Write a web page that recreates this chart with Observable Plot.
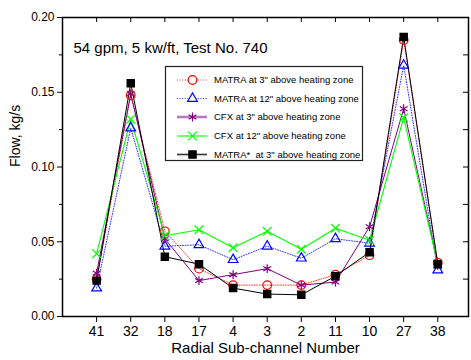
<!DOCTYPE html>
<html>
<head>
<meta charset="utf-8">
<script src="https://cdn.jsdelivr.net/npm/d3@7"></script>
<script src="https://cdn.jsdelivr.net/npm/@observablehq/plot@0.6"></script>
<style>
  html, body { margin: 0; padding: 0; background: #fff; }
  #chart { width: 471px; height: 360px; }
</style>
</head>
<body>
<div id="chart"></div>
<script>
// Radial sub-channels, in the order they are plotted along the x axis
const categories = ["41", "32", "18", "17", "4", "3", "2", "11", "10", "27", "38"];

// Flow (kg/s) per sub-channel for each prediction
const matra3 = [0.025, 0.148, 0.057, 0.032, 0.021, 0.021, 0.021, 0.028, 0.041, 0.185, 0.036];
const matra12 = [0.019, 0.126, 0.047, 0.048, 0.038, 0.047, 0.039, 0.052, 0.049, 0.168, 0.031];
const cfx3 = [0.029, 0.149, 0.052, 0.024, 0.028, 0.032, 0.021, 0.023, 0.060, 0.139, 0.035];
const cfx12 = [0.042, 0.132, 0.054, 0.058, 0.046, 0.057, 0.045, 0.059, 0.051, 0.133, 0.035];
const matraStar = [0.024, 0.156, 0.040, 0.035, 0.019, 0.015, 0.0145, 0.027, 0.043, 0.187, 0.035];

const yMajor = [0, 0.05, 0.10, 0.15, 0.20];
const yMinor = [0.025, 0.075, 0.125, 0.175];
const xTicks = categories.map((_, i) => i + 1);

const seriesDefs = [
  {name: "MATRA at 3\" above heating zone", values: matra3, color: "#ff0000", dash: "1,1.6", symbol: "circle", r: 4.3, fill: "none", width: 0.8},
  {name: "MATRA at 12\" above heating zone", values: matra12, color: "#0000ff", dash: "1,1.6", symbol: "triangle", r: 3.6, fill: "none", width: 0.8},
  {name: "CFX at 3\" above heating zone", values: cfx3, color: "#800080", dash: null, symbol: "asterisk", r: 4.2, fill: "none", width: 1},
  {name: "CFX at 12\" above heating zone", values: cfx12, color: "#00ff00", dash: null, symbol: "times", r: 4.0, fill: "none", width: 1.1},
  {name: "MATRA*  at 3\" above heating zone", values: matraStar, color: "#000000", dash: null, symbol: "square", r: 4.1, fill: "#000000", width: 1}
];

const rows = s => s.values.map((v, i) => ({pos: i + 1, flow: v}));

const marks = [];
for (const s of seriesDefs) {
  marks.push(Plot.line(rows(s), {
    x: "pos", y: "flow", stroke: s.color, strokeWidth: s.width,
    strokeDasharray: s.dash ?? undefined
  }));
}
for (const s of seriesDefs) {
  marks.push(Plot.dot(rows(s), {
    x: "pos", y: "flow", symbol: () => s.symbol, r: s.r,
    stroke: s.color, fill: s.fill, strokeWidth: 1.2
  }));
}

const plotW = 471 - 62 - 3;
const plotH = 360 - 17 - 44;

const chart = Plot.plot({
  width: 471,
  height: 360,
  marginLeft: 62,
  marginRight: 3,
  marginTop: 17,
  marginBottom: 44,
  style: {fontFamily: "'Liberation Sans', Arial, sans-serif", fontSize: "12px", color: "#000", background: "#fff"},
  x: {domain: [0, 11.9]},
  y: {domain: [0, 0.20]},
  symbol: {type: "identity"},
  marks: [
    ...marks,
    // inward ticks on the top and right edges of the frame
    Plot.tickX(xTicks, {x: d => d, insetBottom: plotH - 5, stroke: "#000", strokeWidth: 1}),
    Plot.tickY(yMajor.concat(yMinor), {y: d => d, insetLeft: plotW - 5, stroke: "#000", strokeWidth: 1}),
    Plot.axisY({ticks: yMajor, tickFormat: d3.format(".2f"), tickSize: 5, tickPadding: 3, fontSize: 12, label: null}),
    Plot.axisY({ticks: yMinor, tickFormat: () => "", tickSize: 3, label: null}),
    Plot.axisX({ticks: xTicks, tickFormat: d => categories[d - 1], tickSize: 6, tickPadding: 4, fontSize: 14, label: null}),
    Plot.frame({stroke: "#000", strokeWidth: 1.5}),
    Plot.text(["Flow, kg/s"], {frameAnchor: "left", dx: -47, rotate: -90, fontSize: 14, fill: "#000"}),
    Plot.text(["Radial Sub-channel Number"], {frameAnchor: "bottom", dy: 36, fontSize: 15, fill: "#000"}),
    Plot.text(["54 gpm, 5 kw/ft, Test No. 740"], {frameAnchor: "top-left", dx: 11, dy: 25, textAnchor: "start", fontSize: 15, fill: "#000"})
  ]
});

// Legend box drawn into the plot's SVG
const svg = d3.select(chart);
const lg = svg.append("g")
  .attr("font-family", "'Liberation Sans', Arial, sans-serif")
  .attr("font-size", 9.5)
  .attr("text-anchor", "start");
lg.append("rect")
  .attr("x", 165.5).attr("y", 66.5).attr("width", 197).attr("height", 94)
  .attr("fill", "#ffffff").attr("stroke", "#222222").attr("stroke-width", 1.2);
const entryY = [80, 98.5, 117, 136, 154.5];
const legendLine = [
  {color: "#ff0000", width: 0.8, dash: "1,1.6"},
  {color: "#0000ff", width: 0.8, dash: "1,1.6"},
  {color: "#b57bbf", width: 2.6, dash: null},
  {color: "#00ff00", width: 1.1, dash: null},
  {color: "#333333", width: 1.6, dash: null}
];
const symbolTypes = {circle: d3.symbolCircle, triangle: d3.symbolTriangle, asterisk: d3.symbolAsterisk, times: d3.symbolTimes, square: d3.symbolSquare};
seriesDefs.forEach((s, i) => {
  const y = entryY[i];
  const ls = legendLine[i];
  const l = lg.append("line")
    .attr("x1", 177).attr("x2", 207).attr("y1", y).attr("y2", y)
    .attr("stroke", ls.color).attr("stroke-width", ls.width);
  if (ls.dash) l.attr("stroke-dasharray", ls.dash);
  lg.append("path")
    .attr("d", d3.symbol(symbolTypes[s.symbol], Math.PI * s.r * s.r)())
    .attr("transform", `translate(192.5,${y})`)
    .attr("fill", s.fill === "none" ? "#ffffff" : s.fill)
    .attr("stroke", s.color).attr("stroke-width", 1.2);
  lg.append("text")
    .attr("x", 214).attr("y", y).attr("dy", "0.35em")
    .attr("fill", "#000000")
    .style("white-space", "pre")
    .text(s.name);
});

document.getElementById("chart").appendChild(chart);
</script>
</body>
</html>
